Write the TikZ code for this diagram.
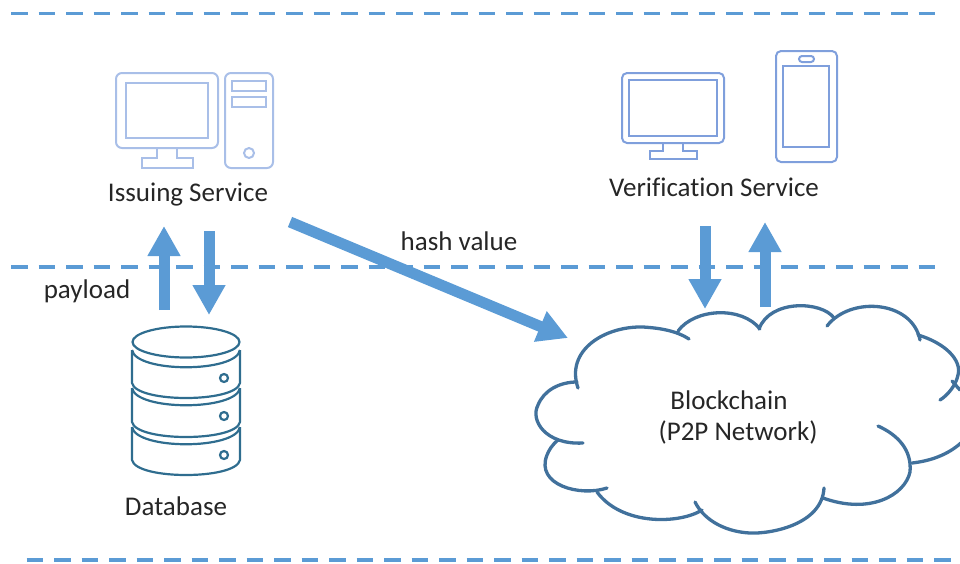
\documentclass[tikz,border=0pt]{standalone}
\usepackage{xcolor}
\usepackage{fontspec}
\setmainfont[Ligatures=NoCommon]{Carlito}
\usetikzlibrary{arrows.meta}
\definecolor{linkblue}{HTML}{5B9BD5}
\definecolor{pcblue}{HTML}{A9BFE8}
\definecolor{devblue}{HTML}{7F9FDC}
\definecolor{dbteal}{HTML}{2F6D8F}
\definecolor{cloudblue}{HTML}{41719C}
\tikzset{
	label/.style={font=\fontsize{27}{32}\selectfont,text=black!85,inner sep=0pt},
	zone/.style={draw=linkblue,line width=3.5pt,dash pattern=on 16.5pt off 11pt},
	flow/.style={draw=linkblue,line width=11pt,-{Triangle[length=30pt,width=31pt]}},
	pc/.style={draw=pcblue,line width=2pt,rounded corners=6pt},
	dev/.style={draw=devblue,line width=2pt,rounded corners=5pt},
	db/.style={draw=dbteal,line width=2.2pt},
	cloudarc/.style={draw=cloudblue,line width=3.3pt,line cap=round}
}
\begin{document}
\begin{tikzpicture}[x=1pt,y=-1pt]
	\useasboundingbox (0,0) rectangle (960,563);

	% zones
	\coordinate (top1) at (11,13.5);
	\coordinate (top2) at (935,13.5);
	\coordinate (mid1) at (11,267);
	\coordinate (mid2) at (935,267);
	\coordinate (bot1) at (26.5,560);
	\coordinate (bot2) at (960,560);
	\draw [zone] (top1) -- (top2);
	\draw [zone] (mid1) -- (mid2);
	\draw [zone] (bot1) -- (bot2);

	% issuing computer
	\draw [pc] (116,73) rectangle (218,148);
	\draw [pc,sharp corners] (126,83) rectangle (208,138);
	\draw [pc,sharp corners] (157,148) -- (157,158) -- (142,158) -- (142,168) -- (193,168) -- (193,158) -- (177,158) -- (177,148);
	\draw [pc] (225,73) rectangle (273,168);
	\draw [pc,sharp corners] (232,81) rectangle (266,91);
	\draw [pc,sharp corners] (232,97) rectangle (266,107);
	\draw [pc] (249,153) circle (5);

	% verification devices
	\draw [dev] (622,73) rectangle (724,143);
	\draw [dev,sharp corners] (629,80) rectangle (717,136);
	\draw [dev,sharp corners] (663,143) -- (663,151) -- (650,151) -- (650,159) -- (697,159) -- (697,151) -- (683,151) -- (683,143);
	\draw [dev] (776,51) rectangle (837,162);
	\draw [dev,sharp corners] (783,66) rectangle (829,147);
	\draw [dev,rounded corners=3pt] (799,56) rectangle (814,62);

	% database
	\draw [db] (186,342) ellipse (53.5 and 15.5);
	\draw [db] (132,350) .. controls (136,373) and (236,373) .. (240,350);
	\draw [db] (132,350) -- (132,383) .. controls (136,403) and (236,403) .. (240,383) -- (240,350);
	\draw [db] (132,388) .. controls (136,411) and (236,411) .. (240,388);
	\draw [db] (132,388) -- (132,422) .. controls (136,442) and (236,442) .. (240,422) -- (240,388);
	\draw [db] (132,427) .. controls (136,450) and (236,450) .. (240,427);
	\draw [db] (132,427) -- (132,460) .. controls (136,480) and (236,480) .. (240,460) -- (240,427);
	\draw [db] (224,378) circle (4);
	\draw [db] (224,416) circle (4);
	\draw [db] (224,455) circle (4);

	% cloud
	\draw [cloudarc] (578,388) .. controls (565,350) and (605,326) .. (643,327) .. controls (660,328) and (677,331) .. (689,339);
	\draw [cloudarc] (678,331) .. controls (695,308) and (742,306) .. (760,329);
	\draw [cloudarc] (759,329) .. controls (770,299) and (822,301) .. (834,318);
	\draw [cloudarc] (827,326) .. controls (850,296) and (912,300) .. (920,340);
	\draw [cloudarc] (918,335) .. controls (945,343) and (962,360) .. (958,375) .. controls (956,385) and (948,395) .. (940,400);
	\draw [cloudarc] (952,381) -- (960,390);
	\draw [cloudarc] (962,442) .. controls (948,455) and (930,461) .. (912,463);
	\draw [cloudarc] (878,426) .. controls (898,435) and (912,450) .. (910,472) .. controls (905,495) and (870,515) .. (823,498);
	\draw [cloudarc] (824,488) .. controls (822,525) and (770,534) .. (750,533) .. controls (728,532) and (705,522) .. (695,502);
	\draw [cloudarc] (702,510) .. controls (680,524) and (622,526) .. (597,492);
	\draw [cloudarc] (607,488) .. controls (580,497) and (535,485) .. (547,455) .. controls (549,450) and (552,445) .. (558,440);
	\draw [cloudarc] (583,443) .. controls (545,445) and (530,420) .. (538,405) .. controls (544,390) and (560,382) .. (577,382);

	% labels
	\node [label] (issuing) at (188,195) {Issuing Service};
	\node [label] (verification) at (714,187) {Verification Service};
	\node [label] (hash) at (459,241) {hash value};
	\node [label] (payload) at (87,291) {payload};
	\node [label] (database) at (176,506) {Database};
	\node [label] (chain) at (729,400) {Blockchain};
	\node [label] (network) at (738,432) {(P2P Network)};

	% flows
	\coordinate (dbout) at (164,310);
	\coordinate (svcin) at (164,226);
	\coordinate (svcout) at (209,231);
	\coordinate (dbin) at (209,315);
	\coordinate (hashfrom) at (290,222);
	\coordinate (hashto) at (568,338);
	\coordinate (verdown1) at (705,226);
	\coordinate (verdown2) at (705,309);
	\coordinate (verup1) at (765,307);
	\coordinate (verup2) at (765,222);
	\draw [flow] (dbout) -- (svcin);
	\draw [flow] (svcout) -- (dbin);
	\draw [flow] (hashfrom) -- (hashto);
	\draw [flow] (verdown1) -- (verdown2);
	\draw [flow] (verup1) -- (verup2);
\end{tikzpicture}
\end{document}
